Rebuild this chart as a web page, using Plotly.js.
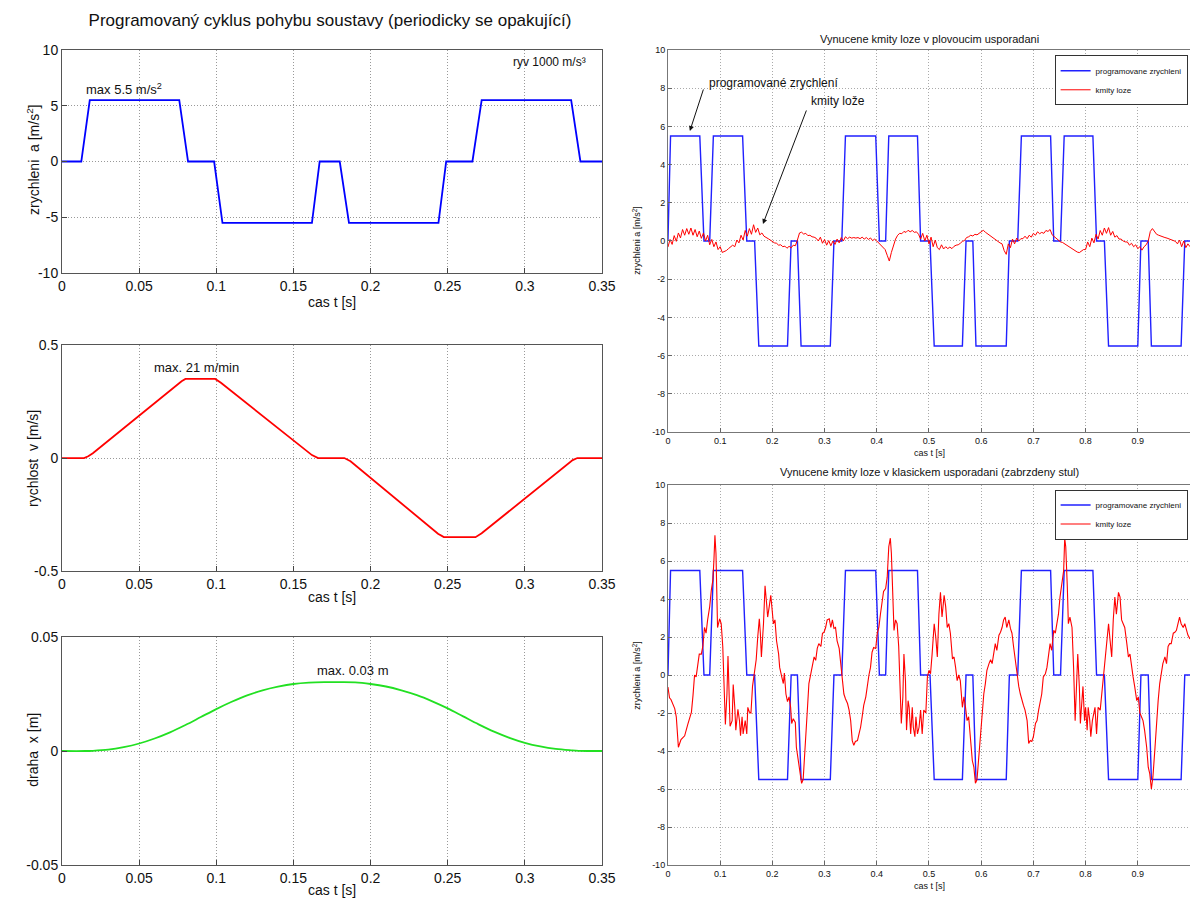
<!DOCTYPE html>
<html>
<head>
<meta charset="utf-8">
<script src="https://cdn.plot.ly/plotly-3.0.1.min.js"></script>
<style>html,body{margin:0;padding:0;background:#fff;}#chart{width:1190px;height:899px;}</style>
</head>
<body>
<div id="chart"></div>
<script>
// ---------- Left column: programmed motion cycle ----------
const accT = [0, 0.0125, 0.018, 0.076, 0.0817, 0.0986, 0.104, 0.162, 0.167, 0.180, 0.186, 0.244, 0.249, 0.266, 0.272, 0.330, 0.336, 0.35];
const accA = [0, 0, 5.5, 5.5, 0, 0, -5.5, -5.5, 0, 0, -5.5, -5.5, 0, 0, 5.5, 5.5, 0, 0];

const velT = [0, 0.0143, 0.017, 0.020, 0.0775, 0.080, 0.0993, 0.103, 0.162, 0.166, 0.183, 0.187, 0.2437, 0.2475, 0.268, 0.272, 0.331, 0.334, 0.35];
const velV = [0, 0, 0.008, 0.021, 0.34, 0.35, 0.35, 0.333, 0.013, 0, 0, -0.014, -0.335, -0.35, -0.35, -0.333, -0.009, 0, 0];

const posT = [0, 0.015, 0.02, 0.03, 0.04, 0.05, 0.06, 0.07, 0.08, 0.09, 0.10, 0.11, 0.12, 0.13, 0.14, 0.15, 0.16, 0.17, 0.18, 0.19, 0.20, 0.21, 0.22, 0.23, 0.24, 0.25, 0.26, 0.27, 0.28, 0.29, 0.30, 0.31, 0.32, 0.33, 0.335, 0.35];
const posX = [0, 0, 0.0001, 0.0006, 0.0017, 0.0033, 0.0055, 0.0082, 0.0114, 0.0149, 0.0184, 0.0216, 0.0244, 0.0266, 0.0282, 0.0294, 0.0300, 0.0302, 0.0302, 0.0301, 0.0294, 0.0283, 0.0266, 0.0245, 0.0218, 0.0187, 0.0152, 0.0117, 0.0085, 0.0058, 0.0036, 0.0020, 0.0009, 0.0003, 0.0001, 0];

const leftTickVals = [0, 0.05, 0.1, 0.15, 0.2, 0.25, 0.3, 0.35];
const leftTickText = ["0", "0.05", "0.1", "0.15", "0.2", "0.25", "0.3", "0.35"];

// ---------- Right column: forced vibrations of the bed ----------
const progT = [0, 0.005, 0.061, 0.069, 0.080, 0.087, 0.143, 0.151, 0.166, 0.174, 0.229, 0.236, 0.248, 0.255, 0.311, 0.318, 0.333, 0.340, 0.398, 0.405, 0.417, 0.423, 0.478, 0.484, 0.502, 0.510, 0.564, 0.571, 0.584, 0.590, 0.648, 0.654, 0.670, 0.677, 0.733, 0.739, 0.752, 0.759, 0.814, 0.821, 0.836, 0.844, 0.900, 0.906, 0.920, 0.926, 0.983, 0.990, 1.0];
const progA = [0, 5.5, 5.5, 0, 0, 5.5, 5.5, 0, 0, -5.5, -5.5, 0, 0, -5.5, -5.5, 0, 0, 5.5, 5.5, 0, 0, 5.5, 5.5, 0, 0, -5.5, -5.5, 0, 0, -5.5, -5.5, 0, 0, 5.5, 5.5, 0, 0, 5.5, 5.5, 0, 0, -5.5, -5.5, 0, 0, -5.5, -5.5, 0, 0];

// floating arrangement: bed vibration sampled every 4 ms
const floatStep = 0.004;
const floatA = [
 -0.32, 0.08, -0.18, 0.28, -0.02, 0.42, 0.16, 0.6, 0.3, 0.65,
 0.35, 0.68, 0.3, 0.6, 0.22, 0.52, 0.14, 0.42, 0.0, 0.3,
 -0.2, 0.08, -0.3, -0.05, -0.45, -0.3, -0.6, -0.55, -0.5, -0.4,
 -0.3, -0.22, -0.3, 0.05, -0.1, 0.3, 0.05, 0.55, 0.25, 0.65,
 0.35, 0.85, 0.45, 0.68, 0.32, 0.42, 0.25, 0.2, 0.12, 0.05,
 -0.02, -0.1, -0.12, -0.22, -0.2, -0.3, -0.27, -0.38, -0.28, -0.36,
 -0.22, -0.25, 0.05, 0.42, 0.46, 0.36, 0.4, 0.28, 0.3, 0.22,
 0.2, 0.14, 0.0, 0.2, -0.12, 0.08, -0.22, 0.02, -0.25, 0.0,
 -0.18, 0.1, -0.1, 0.18, 0.0, 0.22, 0.12, 0.2, 0.15, 0.18,
 0.15, 0.18, 0.12, 0.2, 0.1, 0.18, 0.08, 0.16, 0.02, 0.1,
 0.0, -0.1, -0.2, -0.32, -0.45, -0.75, -1.05, -0.6, -0.2, 0.1,
 0.3, 0.4, 0.38, 0.5, 0.45, 0.56, 0.48, 0.55, 0.45, 0.48,
 0.35, 0.1, 0.4, 0.0, 0.3, -0.15, 0.2, -0.3, 0.05, -0.35,
 -0.45, -0.2, -0.42, -0.3, -0.4, -0.32, -0.4, -0.28, -0.22, -0.2,
 -0.12, -0.02, 0.02, 0.18, 0.22, 0.3, 0.26, 0.35, 0.32, 0.4,
 0.5, 0.56, 0.46, 0.38, 0.3, 0.22, 0.12, 0.04, -0.05, -0.1,
 -0.15, -0.5, -0.7, -0.15, -0.35, 0.1, -0.15, 0.15, 0.0, 0.12,
 0.12, 0.25, 0.12, 0.3, 0.2, 0.4, 0.3, 0.48, 0.38, 0.45,
 0.4, 0.55, 0.5, 0.6, 0.32, 0.22, 0.1, 0.05, -0.05, -0.08,
 -0.15, -0.22, -0.3, -0.38, -0.45, -0.52, -0.58, -0.61, -0.55, -0.45,
 -0.45, -0.05, -0.3, 0.15, -0.1, 0.35, 0.1, 0.55, 0.3, 0.68,
 0.4, 0.7, 0.3, 0.5, 0.2, 0.28, 0.1, 0.1, 0.0, -0.05,
 -0.05, -0.22, -0.12, -0.3, -0.2, -0.4, -0.3, -0.48, -0.3, -0.2,
 0.0, 0.5, 0.65, 0.5, 0.35, 0.3, 0.25, 0.2, 0.18, 0.15,
 0.1, 0.05, 0.04, -0.02, -0.15, 0.05, -0.3, 0.0, -0.35, -0.15,
 -0.3
];
const floatT = floatA.map((_, i) => +(i * floatStep).toFixed(3));

// classic arrangement (braked table): bed vibration
const clampT = [
 0.000,0.003,0.006,0.013,0.016,0.020,0.025,0.032,0.038,0.045,
 0.048,0.051,0.054,0.057,0.060,0.064,0.067,0.070,0.073,0.076,
 0.080,0.083,0.086,0.088,0.090,0.092,0.095,0.099,0.102,0.105,
 0.108,0.110,0.113,0.115,0.116,0.119,0.123,0.125,0.128,0.130,
 0.134,0.137,0.139,0.142,0.144,0.148,0.151,0.153,0.156,0.159,
 0.162,0.165,0.169,0.172,0.175,0.177,0.179,0.183,0.186,0.189,
 0.191,0.194,0.197,0.199,0.202,0.205,0.208,0.212,0.214,0.218,
 0.221,0.223,0.226,0.229,0.232,0.235,0.237,0.240,0.244,0.246,
 0.250,0.253,0.256,0.259,0.261,0.264,0.267,0.270,0.274,0.277,
 0.280,0.283,0.286,0.289,0.293,0.296,0.299,0.302,0.305,0.309,
 0.312,0.315,0.318,0.321,0.324,0.328,0.331,0.334,0.337,0.340,
 0.344,0.347,0.350,0.353,0.356,0.359,0.363,0.366,0.369,0.372,
 0.375,0.379,0.382,0.385,0.388,0.391,0.394,0.398,0.401,0.404,
 0.407,0.410,0.413,0.417,0.420,0.423,0.426,0.428,0.431,0.433,
 0.436,0.439,0.442,0.445,0.447,0.450,0.452,0.455,0.457,0.460,
 0.462,0.465,0.468,0.470,0.473,0.475,0.478,0.481,0.484,0.487,
 0.490,0.494,0.497,0.500,0.503,0.506,0.510,0.513,0.516,0.519,
 0.522,0.525,0.529,0.532,0.535,0.538,0.541,0.545,0.548,0.551,
 0.554,0.557,0.560,0.564,0.567,0.570,0.573,0.576,0.580,0.583,
 0.586,0.589,0.592,0.595,0.599,0.602,0.605,0.608,0.611,0.615,
 0.618,0.621,0.624,0.627,0.630,0.634,0.637,0.640,0.643,0.646,
 0.649,0.653,0.656,0.659,0.662,0.665,0.669,0.672,0.675,0.678,
 0.681,0.684,0.688,0.691,0.694,0.697,0.700,0.704,0.707,0.710,
 0.713,0.716,0.719,0.723,0.726,0.729,0.732,0.735,0.739,0.742,
 0.745,0.748,0.751,0.754,0.758,0.760,0.762,0.765,0.767,0.770,
 0.774,0.777,0.780,0.782,0.785,0.788,0.790,0.793,0.795,0.798,
 0.800,0.803,0.805,0.808,0.810,0.813,0.816,0.818,0.821,0.824,
 0.828,0.831,0.834,0.837,0.840,0.844,0.847,0.850,0.853,0.856,
 0.859,0.863,0.866,0.869,0.872,0.875,0.879,0.882,0.885,0.888,
 0.891,0.894,0.898,0.901,0.904,0.907,0.910,0.913,0.917,0.920,
 0.923,0.926,0.929,0.933,0.936,0.939,0.942,0.945,0.948,0.952,
 0.955,0.958,0.961,0.964,0.968,0.971,0.974,0.977,0.980,0.983,
 0.987,0.990,0.993,0.996,1.000
];
const clampA = [
 -0.63,-1.2,-1.3,-1.77,-2.2,-3.8,-3.4,-3.2,-2.6,-1.95,
 -1.07,0,-0.1,0.4,1.1,1.1,1.55,2.5,2.2,2.9,
 3.6,4.45,5.0,6.0,7.35,6.4,2.5,2.96,2.7,1.5,
 -1.0,-2.6,-1.0,1.0,0.1,-2.7,-2.4,-0.5,-1.7,-2.9,
 -1.8,-2.4,-3.2,-2.2,-3.1,-2.4,-3.1,-1.7,-1.95,-2.0,
 -0.6,0.0,0.8,2.0,2.96,2.2,0.95,2.7,4.7,3.75,
 3.05,3.6,4.2,3.6,2.7,2.9,1.8,1.1,0.4,-0.1,
 -0.45,0.1,-1.0,-1.4,-1.15,-1.7,-2.55,-2.3,-2.5,-3.8,
 -4.5,-5.2,-5.7,-5.5,-4.7,-3.1,-1.85,-0.45,0.15,0.7,
 0.95,0.77,1.4,1.65,1.5,2.2,2.25,2.5,2.9,2.96,
 2.5,2.9,2.45,2.5,1.8,1.4,0.6,-0.45,-1.0,-1.25,
 -1.5,-1.85,-2.4,-3.45,-3.7,-3.5,-3.45,-3.1,-2.75,-2.2,
 -1.6,-1.15,-0.45,0,0.4,1.2,1.45,1.4,2.2,2.5,
 3.2,3.75,4.4,4.55,5.15,6.75,7.2,6.4,4.3,2.35,
 2.9,2.7,1.5,-1.0,-2.55,-1.15,1.1,-0.3,-2.9,-1.35,
 -1.7,-3.1,-1.7,-2.75,-3.25,-2.2,-3.1,-2.75,-1.85,-3.1,
 -1.85,-2.0,-0.1,0.25,0.07,1.1,2.7,2.0,0.95,3.2,
 4.35,3.05,4.2,3.6,2.5,2.7,2.2,0.85,0.95,0.4,
 -0.3,0,-0.3,-1.7,-1.15,-1.7,-2.4,-2.2,-3.45,-4.5,
 -4.85,-5.7,-5.5,-4.5,-3.1,-1.7,-1.0,-0.45,0.25,0.6,
 0.8,0.6,1.2,1.65,1.3,2.1,2.25,2.5,2.9,3.05,
 2.5,2.9,2.45,2.2,1.5,0.8,0,-0.6,-1.0,-1.35,
 -1.6,-1.85,-2.4,-3.6,-3.45,-3.5,-3.25,-2.55,-2.4,-1.85,
 -1.35,-1.0,-0.1,0.07,0.4,1.1,1.65,1.3,2.35,2.2,
 2.7,3.2,4.1,4.65,5.5,7.2,6.75,4.65,2.7,3.05,
 2.5,0.4,-2.4,-1.0,1.1,-0.6,-2.55,-1.35,-0.6,-2.4,
 -1.7,-2.9,-1.7,-2.4,-3.25,-2.4,-1.85,-1.7,-3.1,-1.7,
 -1.85,-1.0,-0.1,0.4,1.5,2.7,1.8,0.95,2.9,4.1,
 3.2,4.35,4.1,2.9,2.7,2.5,1.65,0.95,1.1,0.4,
 -0.1,-0.6,-1.35,-1.15,-2.0,-2.2,-2.4,-2.9,-3.8,-4.85,
 -5.2,-6.0,-5.35,-3.8,-2.4,-1.35,-0.45,0.07,0.6,0.95,
 0.6,1.5,1.65,1.65,2.2,2.25,2.35,2.7,3.05,2.7,
 2.5,2.7,2.35,2.1,1.9
];

const rightTickVals = [0, 0.1, 0.2, 0.3, 0.4, 0.5, 0.6, 0.7, 0.8, 0.9, 1];
const rightTickText = ["0", "0.1", "0.2", "0.3", "0.4", "0.5", "0.6", "0.7", "0.8", "0.9", "1"];
const rightYTicks = [-10, -8, -6, -4, -2, 0, 2, 4, 6, 8, 10];
const rightYText = ["-10", "-8", "-6", "-4", "-2", "0", "2", "4", "6", "8", "10"];

const seriesNames = ["programovane zrychleni", "kmity loze"];

// ---------- Build ----------
const FONT = "Liberation Sans, Arial, sans-serif";
const BLUE = "#0000ff", RED = "#ff0000", GREEN = "#22e022";
const GRIDDASH = "1px,2px";

const traces = [
  {x: accT, y: accA, xaxis: "x", yaxis: "y", mode: "lines", line: {color: BLUE, width: 1.8}, showlegend: false},
  {x: velT, y: velV, xaxis: "x2", yaxis: "y2", mode: "lines", line: {color: RED, width: 1.8}, showlegend: false},
  {x: posT, y: posX, xaxis: "x3", yaxis: "y3", mode: "lines", line: {color: GREEN, width: 1.8, shape: "spline"}, showlegend: false},
  {x: progT, y: progA, xaxis: "x4", yaxis: "y4", mode: "lines", name: seriesNames[0], line: {color: "#2020ff", width: 1.4}, legend: "legend"},
  {x: floatT, y: floatA, xaxis: "x4", yaxis: "y4", mode: "lines", name: seriesNames[1], line: {color: RED, width: 1}, legend: "legend"},
  {x: progT, y: progA, xaxis: "x5", yaxis: "y5", mode: "lines", name: seriesNames[0], line: {color: "#2020ff", width: 1.4}, legend: "legend2"},
  {x: clampT, y: clampA, xaxis: "x5", yaxis: "y5", mode: "lines", name: seriesNames[1], line: {color: RED, width: 1.1}, legend: "legend2"}
];

function leftX(anchor, dom) {
  return {domain: dom, anchor: anchor, range: [0, 0.35], tickvals: leftTickVals, ticktext: leftTickText,
    ticks: "inside", ticklen: 5, tickcolor: "#444", showline: true, mirror: true, linecolor: "#555", linewidth: 1,
    showgrid: true, gridcolor: "#999", griddash: GRIDDASH, gridwidth: 1, zeroline: false,
    tickfont: {family: FONT, size: 14, color: "#111"}};
}
function leftY(anchor, dom, range, vals, text) {
  return {domain: dom, anchor: anchor, range: range, tickvals: vals, ticktext: text,
    ticks: "inside", ticklen: 5, tickcolor: "#444", showline: true, mirror: true, linecolor: "#555", linewidth: 1,
    showgrid: true, gridcolor: "#999", griddash: GRIDDASH, gridwidth: 1, zeroline: false,
    tickfont: {family: FONT, size: 14, color: "#111"}};
}
function rightX(anchor, dom) {
  return {domain: dom, anchor: anchor, range: [0, 1], tickvals: rightTickVals, ticktext: rightTickText,
    ticks: "inside", ticklen: 4, tickcolor: "#666", showline: true, mirror: true, linecolor: "#777", linewidth: 1,
    showgrid: true, gridcolor: "#aaa", griddash: GRIDDASH, gridwidth: 1, zeroline: false,
    tickfont: {family: FONT, size: 9, color: "#111"}};
}
function rightY(anchor, dom) {
  return {domain: dom, anchor: anchor, range: [-10, 10], tickvals: rightYTicks, ticktext: rightYText,
    ticks: "inside", ticklen: 4, tickcolor: "#666", showline: true, mirror: true, linecolor: "#777", linewidth: 1,
    showgrid: true, gridcolor: "#aaa", griddash: GRIDDASH, gridwidth: 1, zeroline: false,
    tickfont: {family: FONT, size: 9, color: "#111"}};
}

const LX = [0.0521, 0.5059], RX = [0.5613, 1.0];

function note(text, x, y, size, extra) {
  return Object.assign({text: text, x: x, y: y, xref: "paper", yref: "paper", xanchor: "center", yanchor: "middle",
    showarrow: false, font: {family: FONT, size: size, color: "#111"}}, extra || {});
}
function dataNote(text, x, y, xr, yr, size, extra) {
  return Object.assign({text: text, x: x, y: y, xref: xr, yref: yr, xanchor: "center", yanchor: "middle",
    showarrow: false, font: {family: FONT, size: size, color: "#111"}}, extra || {});
}

const layout = {
  width: 1190, height: 899,
  margin: {l: 0, r: 0, t: 0, b: 0},
  paper_bgcolor: "#fff", plot_bgcolor: "#fff",
  font: {family: FONT, color: "#111"},
  title: {text: "Programovaný cyklus pohybu soustavy (periodicky se opakující)", x: 0.2773, xanchor: "center", y: 0.978, yanchor: "middle",
    font: {family: FONT, size: 17, color: "#111"}},
  xaxis: leftX("y", LX),
  yaxis: leftY("x", [0.6963, 0.9444], [-10, 10], [-10, -5, 0, 5, 10], ["-10", "-5", "0", "5", "10"]),
  xaxis2: leftX("y2", LX),
  yaxis2: leftY("x2", [0.3648, 0.6162], [-0.5, 0.5], [-0.5, 0, 0.5], ["-0.5", "0", "0.5"]),
  xaxis3: leftX("y3", LX),
  yaxis3: leftY("x3", [0.0378, 0.2914], [-0.05, 0.05], [-0.05, 0, 0.05], ["-0.05", "0", "0.05"]),
  xaxis4: rightX("y4", RX),
  yaxis4: rightY("x4", [0.5195, 0.9444]),
  xaxis5: rightX("y5", RX),
  yaxis5: rightY("x5", [0.0378, 0.4605]),
  legend: {x: 0.998, xanchor: "right", y: 0.9385, yanchor: "top", bgcolor: "#fff", bordercolor: "#333", borderwidth: 1,
    font: {family: FONT, size: 8, color: "#111"}, tracegroupgap: 0, itemwidth: 30},
  legend2: {x: 0.998, xanchor: "right", y: 0.4555, yanchor: "top", bgcolor: "#fff", bordercolor: "#333", borderwidth: 1,
    font: {family: FONT, size: 8, color: "#111"}, tracegroupgap: 0, itemwidth: 30},
  annotations: [
    // left column axis titles
    note("zrychleni  a [m/s<sup>2</sup>]", 0.0277, 0.822, 14, {textangle: -90}),
    note("cas t [s]", 0.279, 0.664, 14),
    note("rychlost  v [m/s]", 0.0277, 0.4905, 14, {textangle: -90}),
    note("cas t [s]", 0.279, 0.336, 14),
    note("draha  x [m]", 0.0277, 0.166, 14, {textangle: -90}),
    note("cas t [s]", 0.279, 0.01, 14),
    // left column labels
    dataNote("max 5.5 m/s<sup>2</sup>", 0.0405, 6.5, "x", "y", 13),
    dataNote("ryv 1000 m/s³", 0.316, 8.9, "x", "y", 12),
    dataNote("max. 21 m/min", 0.0869, 0.399, "x2", "y2", 13),
    dataNote("max. 0.03 m", 0.1886, 0.0355, "x3", "y3", 13),
    // right column titles
    note("Vynucene kmity loze v plovoucim usporadani", 0.7815, 0.9566, 11),
    note("zrychleni a [m/s<sup>2</sup>]", 0.535, 0.733, 9, {textangle: -90}),
    note("cas t [s]", 0.7815, 0.4965, 9),
    note("Vynucene kmity loze v klasickem usporadani (zabrzdeny stul)", 0.7815, 0.475, 11),
    note("zrychleni a [m/s<sup>2</sup>]", 0.535, 0.249, 9, {textangle: -90}),
    note("cas t [s]", 0.7815, 0.0145, 9),
    // right top callouts
    dataNote("programované zrychlení", 0.0747, 8.27, "x4", "y4", 12, {xanchor: "left"}),
    dataNote("kmity lože", 0.270, 7.33, "x4", "y4", 12, {xanchor: "left"}),
    {text: "", x: 0.042, y: 5.76, xref: "x4", yref: "y4", showarrow: true, ax: 14, ay: -43, arrowhead: 2, arrowsize: 1, arrowwidth: 1, arrowcolor: "#111"},
    {text: "", x: 0.182, y: 0.89, xref: "x4", yref: "y4", showarrow: true, ax: 44, ay: -115, arrowhead: 2, arrowsize: 1, arrowwidth: 1, arrowcolor: "#111"}
  ]
};

Plotly.newPlot("chart", traces, layout, {staticPlot: true, displayModeBar: false});
</script>
</body>
</html>
